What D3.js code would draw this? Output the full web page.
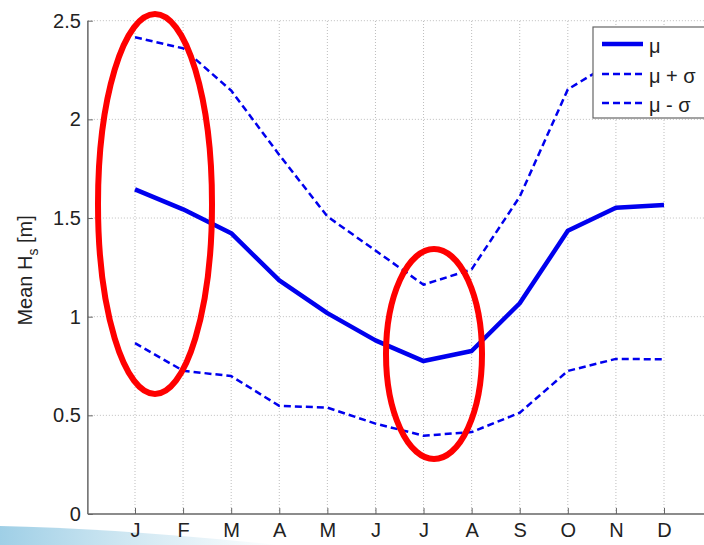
<!DOCTYPE html>
<html>
<head>
<meta charset="utf-8">
<script src="https://cdn.jsdelivr.net/npm/d3@7"></script>
<style>
  html, body { margin: 0; padding: 0; background: #fff; }
  svg { display: block; }
  text { font-family: "Liberation Sans", Arial, Helvetica, sans-serif; fill: #222; }
</style>
</head>
<body>
<svg id="chart" width="704" height="545"></svg>
<script>
// Monthly mean significant wave height and its ±1 standard deviation band
const months = ["J", "F", "M", "A", "M", "J", "J", "A", "S", "O", "N", "D"];
const meanHs = [1.645, 1.544, 1.423, 1.184, 1.018, 0.88, 0.775, 0.826, 1.068, 1.435, 1.552, 1.566];
const meanPlusSigma = [2.416, 2.36, 2.146, 1.82, 1.508, 1.335, 1.162, 1.24, 1.608, 2.152, 2.3, 2.32];
const meanMinusSigma = [0.866, 0.726, 0.699, 0.548, 0.539, 0.458, 0.397, 0.415, 0.513, 0.725, 0.786, 0.784];
const yTicks = [0, 0.5, 1, 1.5, 2, 2.5];
const legendLabels = ["\u03bc", "\u03bc + \u03c3", "\u03bc - \u03c3"];

const svg = d3.select("#chart");
const blue = "#0000ee";

// faint slide decoration in the lower-left corner
const defs = svg.append("defs");
const grad = defs.append("linearGradient").attr("id", "swoosh").attr("x1", "0").attr("x2", "1").attr("y1", "0").attr("y2", "0");
grad.append("stop").attr("offset", "0").attr("stop-color", "#9fcfe6");
grad.append("stop").attr("offset", "0.45").attr("stop-color", "#cfe7f2");
grad.append("stop").attr("offset", "1").attr("stop-color", "#ffffff");
svg.append("path")
  .attr("d", "M0,545 L0,526 Q110,528 280,545 Z")
  .attr("fill", "url(#swoosh)");

// scales: months sit at 1..12 on a 0..13 axis
const x = d3.scaleLinear().domain([1, 12]).range([135, 664]);
const y = d3.scaleLinear().domain([0, 2.5]).range([514, 20.7]);
const x0 = x(0.02), xEnd = x(13);

const g = svg.append("g");

// dotted grid
g.append("g").selectAll("line").data(d3.range(1, 13)).join("line")
  .attr("x1", d => x(d)).attr("x2", d => x(d))
  .attr("y1", y(0)).attr("y2", y(2.5))
  .attr("stroke", "#bdbdbd").attr("stroke-width", 1).attr("stroke-dasharray", "1,2");
g.append("g").selectAll("line").data(yTicks.slice(1)).join("line")
  .attr("x1", x0).attr("x2", xEnd)
  .attr("y1", d => y(d)).attr("y2", d => y(d))
  .attr("stroke", "#bdbdbd").attr("stroke-width", 1).attr("stroke-dasharray", "1,2");

// axes with inward ticks
const xAxis = d3.axisBottom(x).tickValues(d3.range(1, 13))
  .tickFormat((d, i) => months[i]).tickSizeInner(-6).tickSizeOuter(0).tickPadding(9);
const yAxis = d3.axisLeft(y).tickValues(yTicks)
  .tickFormat(d3.format("~g")).tickSizeInner(-5).tickSizeOuter(0).tickPadding(7);

const gx = g.append("g").attr("transform", `translate(0,${y(0)})`).call(xAxis);
const gy = g.append("g").attr("transform", `translate(${x0},0)`).call(yAxis);
[gx, gy].forEach(a => {
  a.select(".domain").remove();
  a.selectAll(".tick line").attr("stroke", "#666").attr("stroke-width", 1);
  a.selectAll("text").attr("font-size", 20).attr("fill", "#222")
    .style("font-family", "'Liberation Sans', Arial, sans-serif");
});
g.append("line").attr("x1", x0).attr("x2", xEnd).attr("y1", y(0)).attr("y2", y(0))
  .attr("stroke", "#666").attr("stroke-width", 1.5);
g.append("line").attr("x1", x0).attr("x2", x0).attr("y1", y(0)).attr("y2", y(2.5))
  .attr("stroke", "#666").attr("stroke-width", 1.5);

// y-axis title
const yt = svg.append("text")
  .attr("transform", `translate(32,${(y(0) + y(2.5)) / 2 + 3}) rotate(-90)`)
  .attr("text-anchor", "middle").attr("font-size", 20);
yt.append("tspan").text("Mean H");
yt.append("tspan").attr("font-size", 14).attr("dy", 6).text("s");
yt.append("tspan").attr("dy", -6).text(" [m]");

// series
const line = d3.line().x((d, i) => x(i + 1)).y(d => y(d));
const series = [
  { values: meanHs, width: 4.5, dash: null },
  { values: meanPlusSigma, width: 2.5, dash: "7,4" },
  { values: meanMinusSigma, width: 2.5, dash: "7,4" }
];
g.append("g").selectAll("path").data(series).join("path")
  .attr("d", d => line(d.values))
  .attr("fill", "none").attr("stroke", blue)
  .attr("stroke-width", d => d.width)
  .attr("stroke-dasharray", d => d.dash)
  .attr("stroke-linejoin", "round");

// legend
const leg = svg.append("g").attr("transform", "translate(593,27)");
leg.append("rect").attr("x", 0).attr("y", 0).attr("width", 130).attr("height", 91)
  .attr("fill", "#fff").attr("stroke", "#666").attr("stroke-width", 1.2);
const rows = leg.selectAll("g.row").data(series).join("g").attr("class", "row")
  .attr("transform", (d, i) => `translate(0,${[17, 47, 76][i]})`);
rows.append("line").attr("x1", 9).attr("x2", 50).attr("y1", 0).attr("y2", 0)
  .attr("stroke", blue).attr("stroke-width", d => d.width).attr("stroke-dasharray", d => d.dash);
rows.append("text").attr("x", 56).attr("y", 9).attr("font-size", 20)
  .text((d, i) => legendLabels[i]);

// red highlight ellipses
const ann = svg.append("g").attr("fill", "none").attr("stroke", "#ff0000").attr("stroke-width", 6);
ann.append("ellipse").attr("cx", 155).attr("cy", 204).attr("rx", 57).attr("ry", 190);
ann.append("ellipse").attr("cx", 434).attr("cy", 354).attr("rx", 48).attr("ry", 105);
</script>
</body>
</html>
